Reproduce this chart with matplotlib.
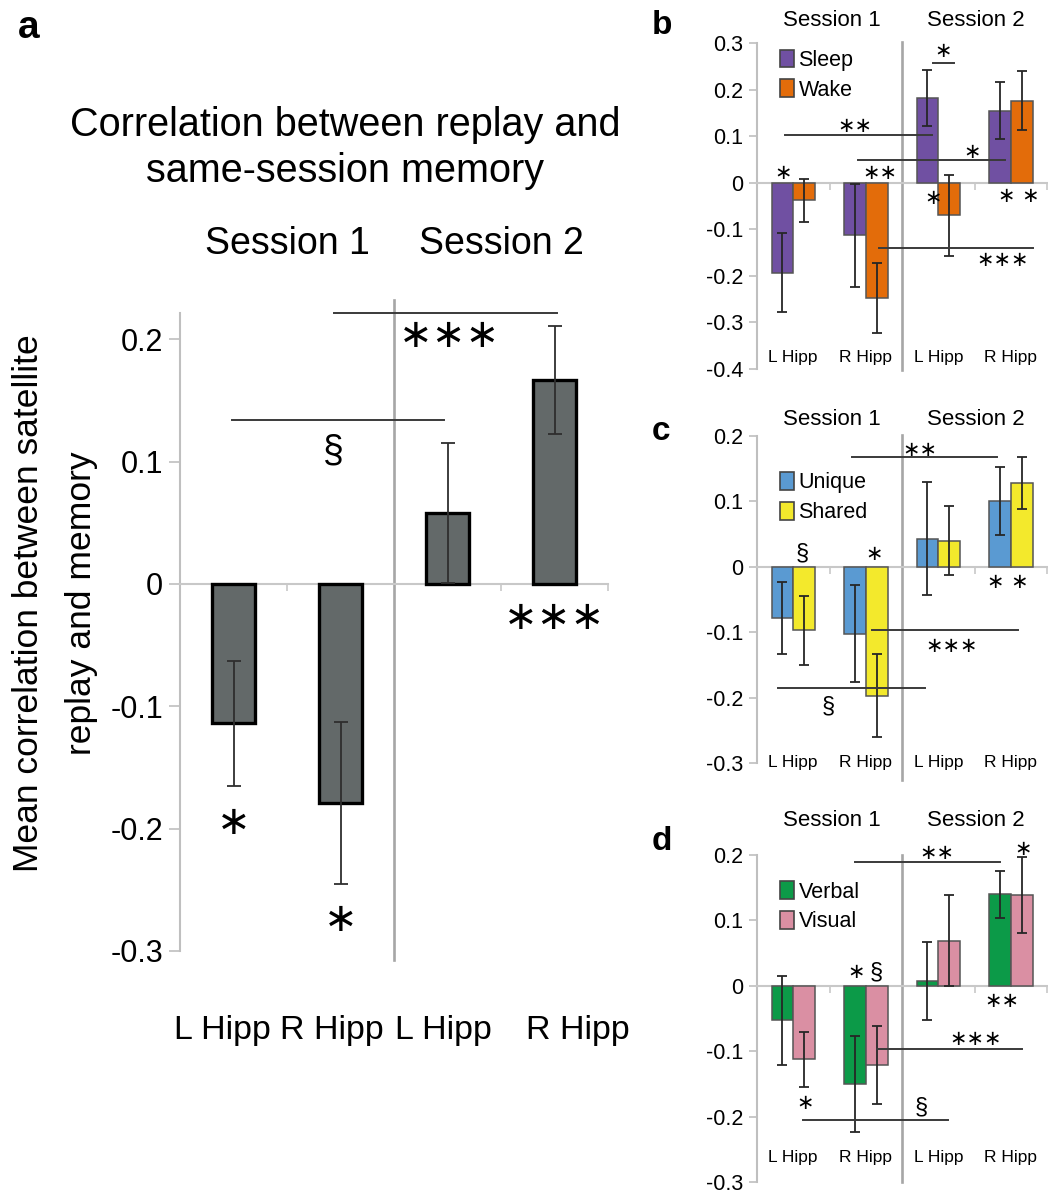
import matplotlib.pyplot as plt
from matplotlib.patches import Patch
import matplotlib.transforms as mtransforms
import numpy as np

plt.rcParams['font.family'] = ['Liberation Sans', 'DejaVu Sans']

regions = ['L Hipp', 'R Hipp', 'L Hipp', 'R Hipp']
sessions = ['Session 1', 'Session 2']

# panel a: mean correlation per region / session
a_mean = [-0.114, -0.179, 0.058, 0.167]
a_err = [0.051, 0.066, 0.057, 0.044]

# panel b
b_labels = ['Sleep', 'Wake']
b_sleep = [-0.193, -0.113, 0.181, 0.155]
b_sleep_err = [0.085, 0.110, 0.060, 0.062]
b_wake = [-0.038, -0.247, -0.070, 0.176]
b_wake_err = [0.047, 0.075, 0.087, 0.063]

# panel c
c_labels = ['Unique', 'Shared']
c_unique = [-0.078, -0.102, 0.043, 0.101]
c_unique_err = [0.055, 0.074, 0.086, 0.052]
c_shared = [-0.097, -0.197, 0.040, 0.128]
c_shared_err = [0.053, 0.063, 0.053, 0.040]

# panel d
d_labels = ['Verbal', 'Visual']
d_verbal = [-0.053, -0.150, 0.007, 0.140]
d_verbal_err = [0.068, 0.073, 0.060, 0.036]
d_visual = [-0.112, -0.121, 0.069, 0.139]
d_visual_err = [0.042, 0.060, 0.070, 0.058]

# significance brackets (x0, x1, y) and marks (x, y, text)
a_lines = [(0.94, 3.02, 0.2216), (-0.01, 1.97, 0.134)]
a_marks = [(2.02, 0.203, '∗∗∗'), (0.93, 0.108, '§'), (0.0, -0.195, '∗'),
           (1.0, -0.275, '∗'), (3.0, -0.028, '∗∗∗')]
b_lines = [(1.93, 2.22, 0.258), (-0.11, 1.91, 0.103), (0.89, 2.92, 0.049),
           (1.18, 3.31, -0.14)]
b_marks = [(2.07, 0.283, '∗'), (0.85, 0.122, '∗∗'), (2.47, 0.065, '∗'),
           (-0.14, 0.02, '∗'), (1.2, 0.02, '∗∗'), (1.93, -0.033, '∗'),
           (3.11, -0.028, '∗ ∗'), (2.89, -0.167, '∗∗∗')]
c_lines = [(0.81, 2.81, 0.168), (1.09, 3.10, -0.096), (-0.21, 1.82, -0.185)]
c_marks = [(1.75, 0.179, '∗∗'), (0.12, 0.02, '§'), (1.11, 0.02, '∗'),
           (2.96, -0.023, '∗ ∗'), (2.19, -0.121, '∗∗∗'), (0.48, -0.213, '§')]
d_lines = [(0.85, 2.85, 0.19), (1.16, 3.16, -0.096), (0.13, 2.13, -0.205)]
d_marks = [(1.98, 0.203, '∗∗'), (3.17, 0.209, '∗'), (0.87, 0.021, '∗'),
           (1.14, 0.021, '§'), (2.88, -0.024, '∗∗'), (2.51, -0.081, '∗∗∗'),
           (0.16, -0.179, '∗'), (1.76, -0.186, '§')]

W, H = 1048, 1193
fig = plt.figure(figsize=(W / 100, H / 100), dpi=100)


def px_axes(x0, y_top, x1, y_bot):
    return fig.add_axes([x0 / W, 1 - y_bot / H, (x1 - x0) / W, (y_bot - y_top) / H])


def style_axes(ax, ylim, yticks, tick_fs, tick_len):
    ax.set_xlim(-0.5, 3.5)
    ax.set_ylim(*ylim)
    for s in ['top', 'right']:
        ax.spines[s].set_visible(False)
    ax.spines['left'].set_color('#bfbfbf')
    ax.spines['left'].set_linewidth(1.5)
    ax.spines['bottom'].set_position(('data', 0))
    ax.spines['bottom'].set_color('#c8c8c8')
    ax.spines['bottom'].set_linewidth(1.5)
    ax.set_yticks(yticks)
    ax.set_yticklabels(['0' if abs(t) < 1e-9 else f'{t:g}' for t in yticks])
    ax.tick_params(axis='y', direction='out', length=tick_len, width=1.2,
                   color='#bfbfbf', labelsize=tick_fs, pad=4)
    ax.set_xticks([0.5, 2.5, 3.5])
    ax.set_xticklabels([])
    ax.tick_params(axis='x', direction='out', length=5, width=1.2, color='#c8c8c8')
    ax.patch.set_alpha(0)


def separator(ax, y0, y1):
    tr = mtransforms.blended_transform_factory(ax.transData, ax.transAxes)
    ax.plot([1.5, 1.5], [y0, y1], color='#a6a6a6', lw=1.9, transform=tr,
            clip_on=False, zorder=1)


def annotate(ax, lines, marks, fs, sec_fs, lw):
    for x0, x1, y in lines:
        ax.plot([x0, x1], [y, y], color='#3a3a3a', lw=lw, zorder=5, clip_on=False)
    for x, y, s in marks:
        if s == '§':
            ax.text(x, y, s, ha='center', va='center', fontsize=sec_fs,
                    family=['Liberation Sans'], zorder=6)
        else:
            ax.text(x, y, s, ha='center', va='center', fontsize=fs,
                    family=['DejaVu Sans'], zorder=6)


def cat_labels(ax, yfrac, fs, dx=(0, 0, 0, 0)):
    tr = mtransforms.blended_transform_factory(ax.transData, ax.transAxes)
    for i, lab in enumerate(regions):
        ax.text(i + dx[i], yfrac, lab, transform=tr, ha='center', va='center', fontsize=fs)


def session_labels(ax, yfrac, fs, xs=(0.5, 2.5)):
    tr = mtransforms.blended_transform_factory(ax.transData, ax.transAxes)
    for x, lab in zip(xs, sessions):
        ax.text(x, yfrac, lab, transform=tr, ha='center', va='center', fontsize=fs)


# ---------------- panel a ----------------
ax = px_axes(180, 313, 608, 951)
style_axes(ax, (-0.3, 0.2215), [-0.3, -0.2, -0.1, 0, 0.1, 0.2], 22, 8)
x = np.arange(4)
ax.bar(x, a_mean, width=0.41, color='#636969', edgecolor='black', linewidth=2.4, zorder=3)
ax.errorbar(x, a_mean, yerr=a_err, fmt='none', ecolor='#2e2e2e', elinewidth=1.3,
            capsize=5, capthick=1.3, zorder=4)
separator(ax, -0.014, 1.02)
annotate(ax, a_lines, a_marks, 29, 27, 1.4)
cat_labels(ax, -0.124, 24.5, dx=(-0.1, -0.08, -0.04, 0.22))
session_labels(ax, 1.108, 27)
fig.text(345 / W, 1 - 148 / H, 'Correlation between replay and\nsame-session memory',
         ha='center', va='center', fontsize=28.5, linespacing=1.3)
fig.text(55 / W, 1 - 603 / H, 'Mean correlation between satellite\nreplay and memory',
         ha='center', va='center', rotation=90, fontsize=25.5, linespacing=1.75)
fig.text(18 / W, 1 - 38 / H, 'a', fontsize=28, fontweight='bold', va='baseline')


# ---------------- panels b, c, d ----------------
def pair_panel(y_top, y_bot, ylim, yticks, s1, e1, s2, e2, colors, labels,
               lines, marks, sep, leg_top, xlab_y, sess_y, letter, letter_y):
    ax = px_axes(757, y_top, 1047, y_bot)
    style_axes(ax, ylim, yticks, 15.5, 6)
    w = 0.30
    x = np.arange(4)
    ax.bar(x - w / 2, s1, width=w, color=colors[0], edgecolor='#555555', linewidth=1.1, zorder=3)
    ax.bar(x + w / 2, s2, width=w, color=colors[1], edgecolor='#555555', linewidth=1.1, zorder=3)
    ax.errorbar(x - w / 2, s1, yerr=e1, fmt='none', ecolor='#262626', elinewidth=1.3,
                capsize=3.5, capthick=1.3, zorder=4)
    ax.errorbar(x + w / 2, s2, yerr=e2, fmt='none', ecolor='#262626', elinewidth=1.3,
                capsize=3.5, capthick=1.3, zorder=4)
    separator(ax, *sep)
    annotate(ax, lines, marks, 15, 17, 1.4)
    handles = [Patch(facecolor=c, edgecolor='#444444', linewidth=1.2) for c in colors]
    ax.legend(handles, labels, loc='upper left', bbox_to_anchor=(0.08, leg_top),
              frameon=False, fontsize=15.5, handlelength=0.65, handleheight=0.9,
              handletextpad=0.2, labelspacing=0.4, borderpad=0, borderaxespad=0)
    cat_labels(ax, xlab_y, 12.5)
    session_labels(ax, sess_y, 16, xs=(0.53, 2.52))
    fig.text(652 / W, 1 - letter_y / H, letter, fontsize=24, fontweight='bold', va='baseline')
    return ax


pair_panel(43, 369, (-0.4, 0.3), [-0.4, -0.3, -0.2, -0.1, 0, 0.1, 0.2, 0.3],
           b_sleep, b_sleep_err, b_wake, b_wake_err, ['#7050a2', '#e36c0a'], b_labels,
           b_lines, b_marks, (-0.003, 1.003), 0.98, 0.034, 1.07, 'b', 34)
pair_panel(436, 763, (-0.3, 0.2), [-0.3, -0.2, -0.1, 0, 0.1, 0.2],
           c_unique, c_unique_err, c_shared, c_shared_err, ['#5a9ad2', '#f3e92c'], c_labels,
           c_lines, c_marks, (-0.052, 1.003), 0.89, 0.0, 1.049, 'c', 440)
pair_panel(855, 1182, (-0.3, 0.2), [-0.3, -0.2, -0.1, 0, 0.1, 0.2],
           d_verbal, d_verbal_err, d_visual, d_visual_err, ['#0c9a48', '#da8fa3'], d_labels,
           d_lines, d_marks, (0.0, 1.0), 0.92, 0.076, 1.107, 'd', 850)

fig.savefig('out.png', dpi=100, facecolor='white')
